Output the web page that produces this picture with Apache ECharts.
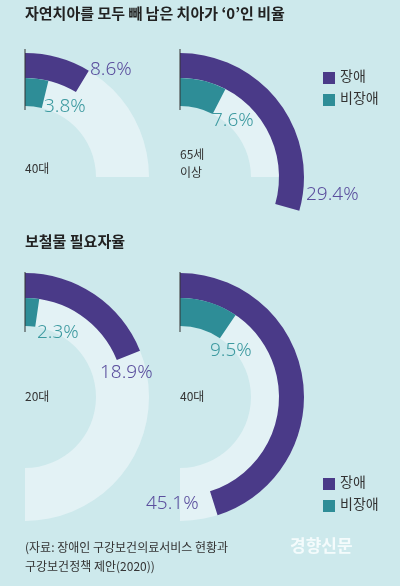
<!DOCTYPE html>
<html><head><meta charset="utf-8">
<script src="https://cdn.jsdelivr.net/npm/echarts@6/dist/echarts.min.js"></script>
<style>html,body{margin:0;background:#cde9ec}#main{width:400px;height:586px}</style>
</head><body><div id="main"></div>
<script>
var groups = ['40대', '65세\n이상', '20대', '40대'];
var disabled = [8.6, 29.4, 18.9, 45.1];     // 장애
var nonDisabled = [3.8, 7.6, 2.3, 9.5];     // 비장애
var trackSpan = [25, 25, 50, 50];           // 배경 트랙 (%)

var centers = [[25, 177], [180, 177], [25, 397], [180, 397]];
var PURPLE = '#4a3a88', TEAL = '#2e8d97', TRACK = '#e3f2f5';
var clear = { color: 'rgba(0,0,0,0)' };

function ring(val, r, color, c) {
  return {
    type: 'pie', silent: true, center: c, radius: r, startAngle: 90, clockwise: true,
    label: { show: false }, labelLine: { show: false }, animation: false,
    data: [{ value: val, itemStyle: { color: color } }, { value: 100 - val, itemStyle: clear }]
  };
}

var series = [];
centers.forEach(function (c, i) {
  series.push(ring(trackSpan[i], [71, 124], TRACK, c));
  series.push(ring(disabled[i], [99, 124], PURPLE, c));
  series.push(ring(nonDisabled[i], [71, 99], TEAL, c));
});

function txt(x, y, s, size, color, extra) {
  return { type: 'text', z: 100, left: x, top: y, style: Object.assign({ text: s, fontSize: size, fill: color, fontFamily: 'Noto Sans CJK KR' }, extra || {}) };
}
function vline(x, y1, y2) {
  return { type: 'line', z: 100, shape: { x1: x, y1: y1, x2: x, y2: y2 }, style: { stroke: '#333', lineWidth: 1 } };
}
function legend(y) {
  return [
    { type: 'rect', z: 100, shape: { x: 323, y: y, width: 12, height: 12 }, style: { fill: PURPLE } },
    txt(340, y - 3, '장애', 14, '#333'),
    { type: 'rect', z: 100, shape: { x: 323, y: y + 22, width: 12, height: 12 }, style: { fill: TEAL } },
    txt(340, y + 19, '비장애', 14, '#333')
  ];
}
var pl = { fontFamily: 'Noto Sans', fontWeight: 300 };
var graphic = [
  txt(25, 6, '자연치아를 모두 빼 남은 치아가 ‘0’인 비율', 15, '#222', { fontWeight: 'bold' }),
  txt(25, 234, '보철물 필요자율', 15, '#222', { fontWeight: 'bold' }),
  vline(25, 49, 110), vline(180, 49, 110), vline(25, 272, 332), vline(180, 272, 332),
  txt(90, 60, disabled[0] + '%', 19, '#5b4f9e', pl),
  txt(44, 97, nonDisabled[0] + '%', 19, '#3d9aa0', pl),
  txt(25, 162, groups[0], 12, '#333'),
  txt(212, 111, nonDisabled[1] + '%', 19, '#3d9aa0', pl),
  txt(180, 145, groups[1], 12, '#333', { lineHeight: 18 }),
  txt(306, 185, disabled[1] + '%', 19, '#5b4f9e', pl),
  txt(37, 323, nonDisabled[2] + '%', 19, '#3d9aa0', pl),
  txt(100, 363, disabled[2] + '%', 19, '#5b4f9e', pl),
  txt(25, 390, groups[2], 12, '#333'),
  txt(210, 341, nonDisabled[3] + '%', 19, '#3d9aa0', pl),
  txt(180, 390, groups[3], 12, '#333'),
  txt(146, 494, disabled[3] + '%', 19, '#5b4f9e', pl),
  txt(25, 538, '(자료: 장애인 구강보건의료서비스 현황과\n구강보건정책 제안(2020))', 12, '#333', { lineHeight: 19 }),
  txt(290, 537, '경향신문', 17, '#f4fbfc', { fontWeight: 'bold' })
].concat(legend(72), legend(478));

var myChart = echarts.init(document.getElementById('main'));
myChart.setOption({ backgroundColor: '#cde9ec', series: series, graphic: graphic });
</script></body></html>
